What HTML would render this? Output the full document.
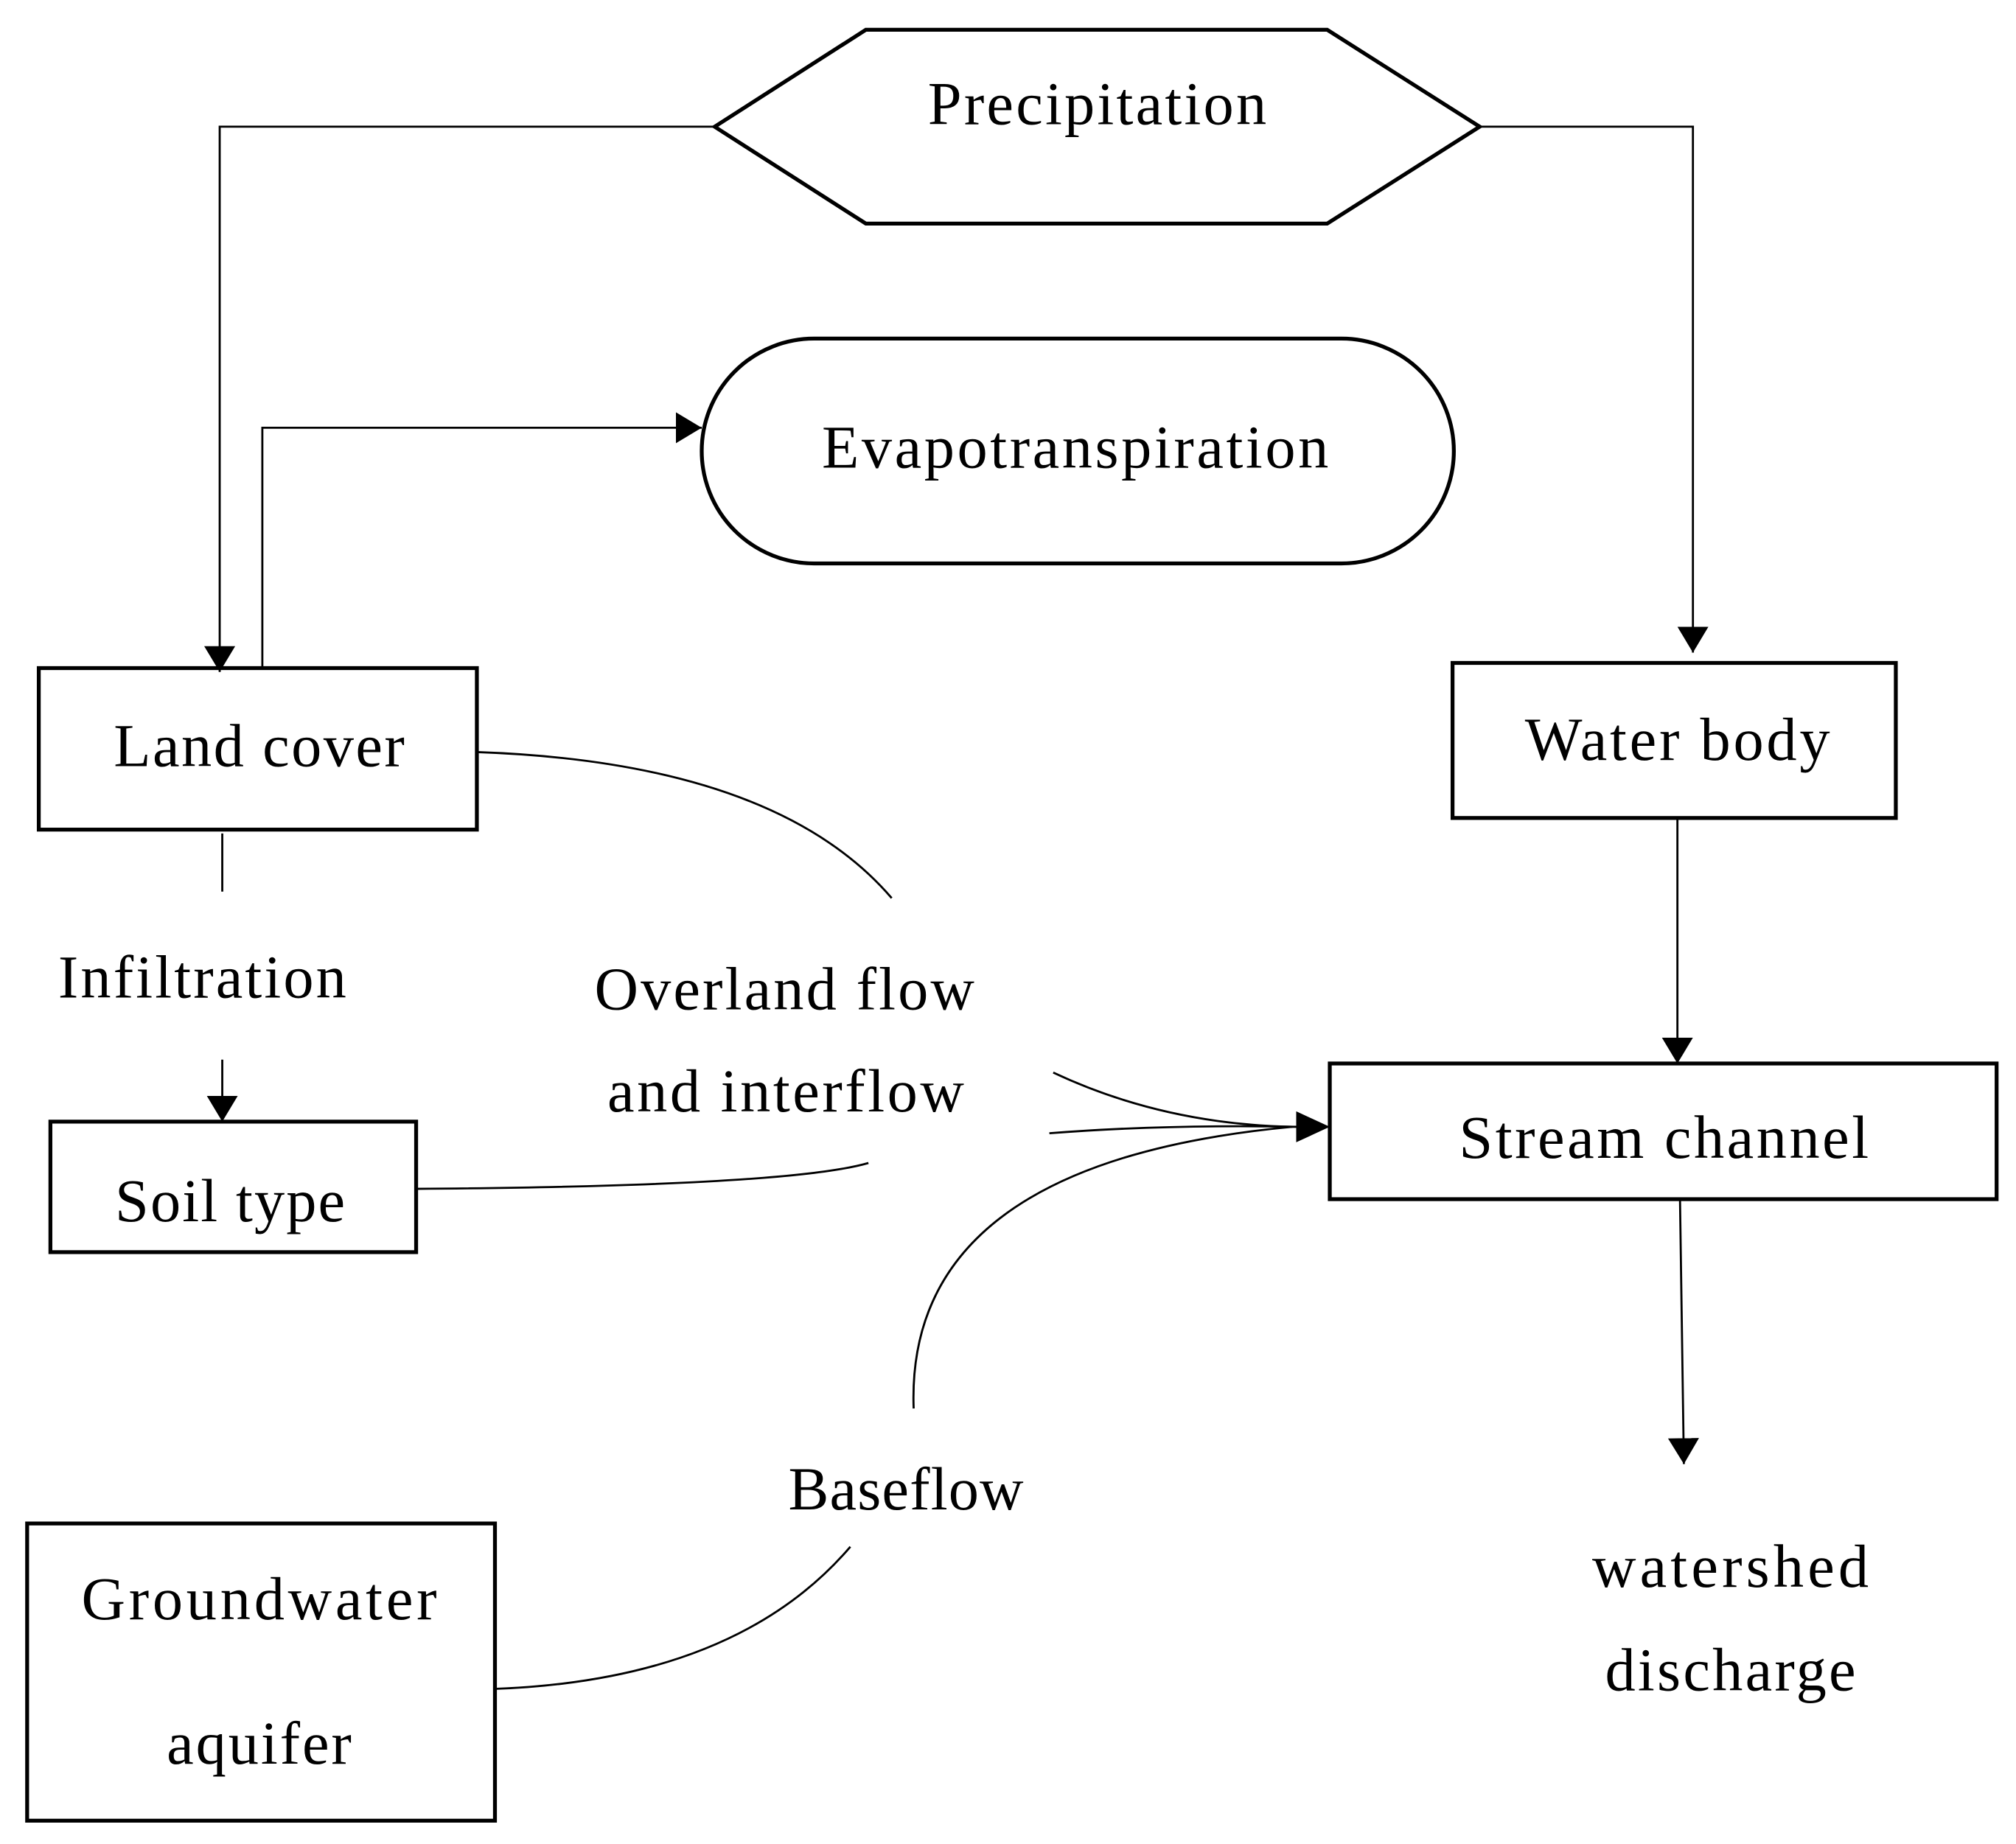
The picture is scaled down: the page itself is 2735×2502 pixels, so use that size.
<!DOCTYPE html>
<html><head><meta charset="utf-8"><style>html,body{margin:0;padding:0;background:#fff}svg{display:block}</style></head>
<body>
<svg width="2735" height="2502" viewBox="0 0 1560 1427" xmlns="http://www.w3.org/2000/svg">
<defs>
<marker id="b" markerWidth="26" markerHeight="24" refX="26" refY="12" orient="auto" markerUnits="userSpaceOnUse"><path d="M0,0L26,12L0,24z" fill="#000"/></marker>
<marker id="c" markerWidth="20" markerHeight="24" refX="20" refY="12" orient="auto" markerUnits="userSpaceOnUse"><path d="M0,0L20,12L0,24z" fill="#000"/></marker></defs>
<g fill="none" stroke="#000">
<polygon points="553,98 670,23 1027,23 1145,98 1027,173 670,173" stroke-width="3"/>
<rect x="543" y="262" width="582" height="174" rx="87" stroke-width="3"/>
<rect x="30" y="517" width="339" height="125" stroke-width="3"/>
<rect x="1124" y="513" width="343" height="120" stroke-width="3"/>
<rect x="1029" y="823" width="516" height="105" stroke-width="3"/>
<rect x="39" y="868" width="283" height="101" stroke-width="3"/>
<rect x="21" y="1179" width="362" height="230" stroke-width="3"/>
<g stroke-width="1.6">
<path d="M553,98H170V520" marker-end="url(#c)"/>
<path d="M1145,98H1310V505" marker-end="url(#c)"/>
<path d="M203,517V331H543" marker-end="url(#c)"/>
<path d="M1298,633V823" marker-end="url(#c)"/>
<path d="M1300,928L1303,1133" marker-end="url(#c)"/>
<path d="M172,645V690"/>
<path d="M172,820V868" marker-end="url(#c)"/>
<path d="M369,582Q600,590 690,695"/>
<path d="M322,920Q610,918 672,900"/>
<path d="M383,1307Q570,1300 658,1197"/>
<path d="M815,830Q900,870 1000,872"/>
<path d="M812,877Q900,870 1005,872"/>
<path d="M707,1090Q700,900 1000,872"/>
<path d="M995,872H1029" marker-end="url(#b)"/>
</g></g>
<g font-family="Liberation Serif, serif" font-size="47" fill="#000" lengthAdjust="spacing">
<text x="718" y="96" textLength="262">Precipitation</text>
<text x="636" y="362" textLength="392">Evapotranspiration</text>
<text x="88" y="593" textLength="225">Land cover</text>
<text x="1180" y="588" textLength="236">Water body</text>
<text x="1129" y="896" textLength="317">Stream channel</text>
<text x="45" y="772" textLength="223">Infiltration</text>
<text x="89" y="945" textLength="178">Soil type</text>
<text x="460" y="781" textLength="294">Overland flow</text>
<text x="470" y="860" textLength="276">and interflow</text>
<text x="610" y="1168" textLength="182">Baseflow</text>
<text x="63" y="1253" textLength="275">Groundwater</text>
<text x="129" y="1365" textLength="143">aquifer</text>
<text x="1232" y="1228" textLength="214">watershed</text>
<text x="1242" y="1308" textLength="194">discharge</text>
</g>
</svg>
</body></html>
